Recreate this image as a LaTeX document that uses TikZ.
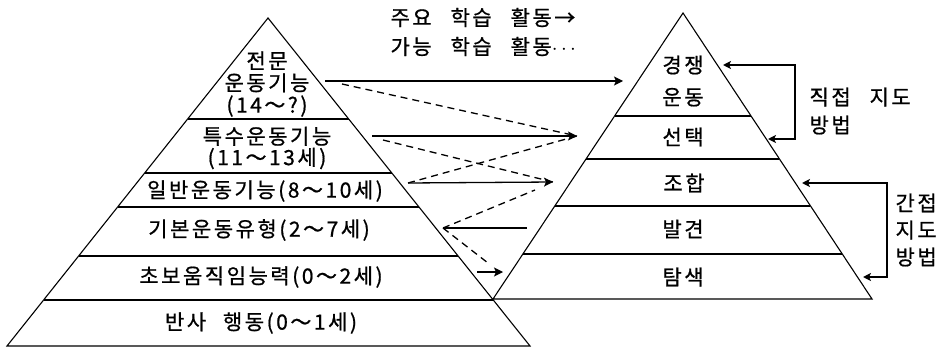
\documentclass[tikz,border=0pt]{standalone}
\usepackage{fontspec}
\setmainfont{Noto Sans CJK KR}[LetterSpace=12.0, FakeBold=0.8]
\usetikzlibrary{arrows.meta}

\tikzset{
    lvl/.style={font=\fontsize{21}{22}\selectfont, align=center, inner sep=0pt},
    main/.style={line width=1.3pt, -{Stealth[length=9pt, width=9pt, inset=2pt]}},
    maybe/.style={line width=1.3pt, dash pattern=on 7pt off 5pt},
    guide/.style={line width=1.3pt, {Stealth[length=8pt, width=8pt, inset=2pt]}-{Stealth[length=8pt, width=8pt, inset=2pt]}}
}

\begin{document}
\begin{tikzpicture}[x=1pt, y=-1pt, line width=1.1pt]
    \useasboundingbox (0,0) rectangle (944,350);

    % left pyramid: motor development
    \draw (268,18) -- (530,346) -- (7,346) -- cycle;
    \draw (188,119) -- (349,119);
    \draw (145,173) -- (392,173);
    \draw (118,207) -- (419,207);
    \draw (79,256) -- (458,256);
    \draw (44,300) -- (493,300);

    \node[lvl] (top) at (267,84) {전문\\운동기능\\(14～?)};
    \node[lvl, font=\fontsize{21}{21}\selectfont] (spec) at (267,148) {특수운동기능\\(11～13세)};
    \node[lvl] (gen) at (265,191) {일반운동기능(8～10세)};
    \node[lvl] (fund) at (259,230) {기본운동유형(2～7세)};
    \node[lvl] (rud) at (261,277) {초보움직임능력(0～2세)};
    \node[lvl] (refl) at (261,323) {반사\hspace{0.8em}행동(0～1세)};

    % right pyramid: learning activities
    \draw (683,13) -- (872,299) -- (493,299) -- cycle;
    \draw (615,116) -- (751,116);
    \draw (586,159) -- (779,159);
    \draw (555,206) -- (810,206);
    \draw (523,254) -- (842,254);

    \node[lvl, font=\fontsize{21}{32}\selectfont] (comp) at (683,81) {경쟁\\운동};
    \node[lvl] (sel) at (683,137) {선택};
    \node[lvl] (comb) at (684,183) {조합};
    \node[lvl] (disc) at (683,229) {발견};
    \node[lvl] (expl) at (683,277) {탐색};

    % legend
    \node[lvl, font=\fontsize{21}{29}\selectfont, align=left, anchor=west] (legend) at (390,32)
        {주요\hspace{0.9em}학습\hspace{0.9em}활동→\\가능\hspace{0.9em}학습\hspace{0.9em}활동$\cdots$};

    % arrow ends
    \coordinate (s1) at (325,81);  \coordinate (e1) at (623,81);
    \coordinate (s1d) at (342,84);
    \coordinate (s2) at (372,136); \coordinate (e2) at (577,136);
    \coordinate (s2d) at (383,140);
    \coordinate (s3) at (408,183); \coordinate (e3) at (553,182);
    \coordinate (s4) at (443,228); \coordinate (e4) at (527,228);
    \coordinate (e4u) at (535,190); \coordinate (e4d) at (488,263);
    \coordinate (s5) at (477,272); \coordinate (e5) at (503,272);

    \draw[main] (s1) -- (e1);
    \draw[main] (s2) -- (e2);
    \draw[main] (s3) -- (e3);
    \draw[line width=1.3pt] (s4) -- (e4);
    \draw[main] (s5) -- (e5);

    \draw[maybe] (s1d) -- (e2);
    \draw[maybe] (s3) -- (e2);
    \draw[maybe] (s2d) -- (e3);
    \draw[maybe] (s4) -- (e4u);
    \draw[maybe] (s4) -- (e4d);

    % teaching methods
    \coordinate (dtop) at (723,65);  \coordinate (dbot) at (768,139);
    \coordinate (itop) at (802,183); \coordinate (ibot) at (863,277);
    \draw[guide] (dtop) -| ([xshift=27pt]dbot) -- (dbot);
    \draw[guide] (itop) -| ([xshift=24pt]ibot) -- (ibot);

    \node[lvl, font=\fontsize{21}{28}\selectfont, align=left, anchor=west] (direct) at (809,111)
        {직접\hspace{0.9em}지도\\방법};
    \node[lvl, font=\fontsize{21}{27}\selectfont, align=left, anchor=west] (indirect) at (895,230)
        {간접\\지도\\방법};
\end{tikzpicture}
\end{document}
